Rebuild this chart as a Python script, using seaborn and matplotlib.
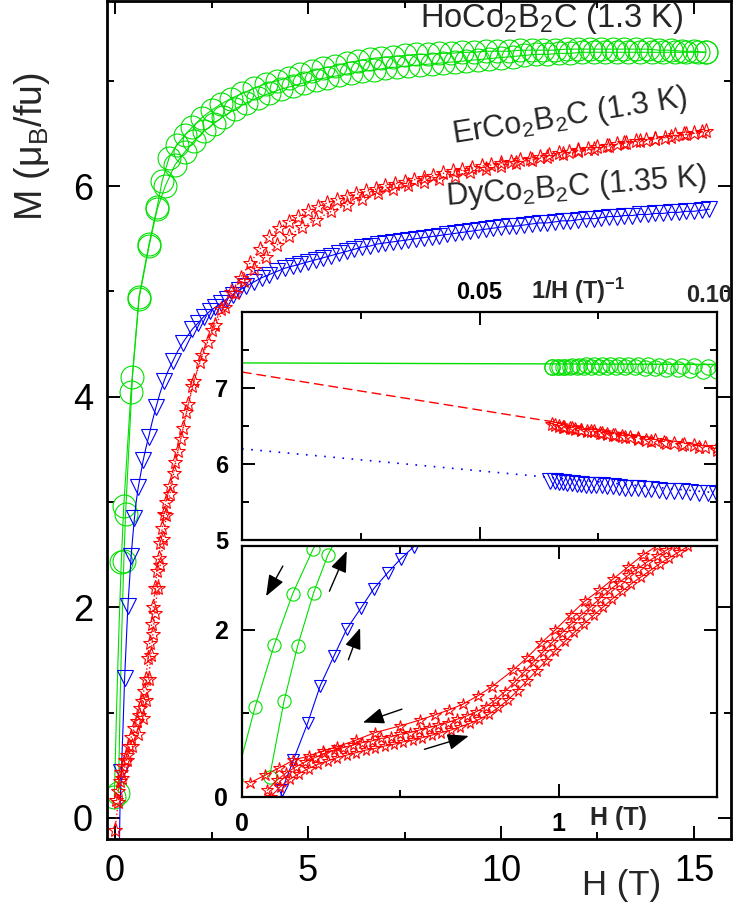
import numpy as np
import matplotlib
matplotlib.use("Agg")
import matplotlib.pyplot as plt
import seaborn as sns

# ---------------- data ----------------
# HoCo2B2C, decreasing-field branch (high -> low)
H_ho_dn = [15.3, 15.0, 14.7, 14.4, 14.1, 13.8, 13.5, 13.2, 12.9, 12.6,
           12.3, 12.0, 11.7, 11.4, 11.1, 10.8, 10.5, 10.2, 9.9, 9.6,
           9.3, 9.0, 8.7, 8.4, 8.1, 7.8, 7.5, 7.2, 6.9, 6.6,
           6.3, 6.0, 5.7, 5.4, 5.1, 4.8, 4.5, 4.2, 3.9, 3.6,
           3.3, 3.0, 2.75, 2.5, 2.25, 2.0, 1.8, 1.6, 1.4, 1.22,
           1.09, 0.88, 0.62, 0.41, 0.224, 0.16, 0.102, 0.041, -0.02]
M_ho_dn = [7.27, 7.28, 7.28, 7.29, 7.29, 7.30, 7.30, 7.30, 7.30, 7.30,
           7.30, 7.30, 7.30, 7.29, 7.29, 7.29, 7.29, 7.28, 7.28, 7.28,
           7.27, 7.27, 7.26, 7.26, 7.25, 7.25, 7.24, 7.23, 7.22, 7.21,
           7.19, 7.17, 7.14, 7.12, 7.09, 7.06, 7.03, 7.00, 6.97, 6.93,
           6.88, 6.83, 6.78, 6.72, 6.65, 6.56, 6.48, 6.39, 6.27, 6.05,
           5.80, 5.45, 4.95, 4.04, 2.96, 2.43, 1.82, 1.07, 0.20]
# HoCo2B2C, increasing-field branch
H_ho_up = [0.087, 0.133, 0.176, 0.226, 0.271, 0.45, 0.62, 0.88, 1.09, 1.3,
           1.55, 1.8, 2.05, 2.3, 2.55, 2.8, 3.1, 3.4, 3.7, 4.0,
           4.3, 4.6, 4.9, 5.2, 5.5, 5.8, 6.1, 6.4, 6.7, 7.0,
           7.3, 7.6, 7.9, 8.2, 8.5, 8.8, 9.1, 9.4, 9.7, 10.0,
           10.3, 10.6, 10.9, 11.2, 11.5, 11.8, 12.1, 12.4, 12.7, 13.0,
           13.3, 13.6, 13.9, 14.2, 14.5, 14.8, 15.1, 15.3]
M_ho_up = [0.24, 1.15, 1.81, 2.44, 2.89, 4.19, 4.93, 5.43, 5.78, 6.00,
           6.20, 6.32, 6.43, 6.52, 6.59, 6.66, 6.73, 6.79, 6.84, 6.88,
           6.92, 6.95, 6.98, 7.01, 7.03, 7.05, 7.07, 7.09, 7.10, 7.12,
           7.13, 7.14, 7.15, 7.16, 7.17, 7.18, 7.19, 7.20, 7.21, 7.22,
           7.23, 7.24, 7.25, 7.25, 7.26, 7.26, 7.27, 7.27, 7.27, 7.27,
           7.27, 7.27, 7.27, 7.27, 7.27, 7.27, 7.27, 7.27]

# DyCo2B2C
H_dy = [0.11, 0.126, 0.162, 0.207, 0.247, 0.291, 0.331, 0.376, 0.416, 0.46,
        0.502, 0.542, 0.6, 0.67, 0.73, 0.79, 0.87, 0.96, 1.06, 1.16,
        1.27, 1.38, 1.5, 1.62, 1.75, 1.88, 2.0, 2.15, 2.3, 2.45,
        2.6, 2.75, 2.9, 3.05, 3.2, 3.4, 3.6, 3.8, 4.0, 4.2,
        4.4, 4.6, 4.8, 5.0, 5.2, 5.4, 5.6, 5.8, 6.0, 6.2,
        6.4, 6.6, 6.8, 7.0, 7.2, 7.4, 7.6, 7.8, 8.0, 8.2,
        8.4, 8.6, 8.8, 9.0, 9.2, 9.4, 9.6, 9.8, 10.0, 10.2,
        10.4, 10.6, 10.8, 11.0, 11.2, 11.4, 11.6, 11.8, 12.0, 12.2,
        12.4, 12.6, 12.8, 13.0, 13.2, 13.4, 13.6, 13.8, 14.0, 14.2,
        14.4, 14.6, 14.8, 15.0, 15.2, 15.4]
M_dy = [-0.30, 0.08, 0.44, 0.88, 1.33, 1.69, 2.01, 2.26, 2.49, 2.68,
        2.85, 2.99, 3.14, 3.28, 3.40, 3.50, 3.62, 3.76, 3.90, 4.03,
        4.15, 4.25, 4.34, 4.43, 4.51, 4.58, 4.64, 4.70, 4.76, 4.81,
        4.85, 4.89, 4.93, 4.97, 5.01, 5.05, 5.09, 5.13, 5.16, 5.19,
        5.22, 5.24, 5.26, 5.28, 5.30, 5.32, 5.34, 5.36, 5.38, 5.40,
        5.42, 5.43, 5.45, 5.46, 5.47, 5.48, 5.49, 5.50, 5.51, 5.52,
        5.53, 5.54, 5.55, 5.56, 5.57, 5.58, 5.59, 5.60, 5.61, 5.62,
        5.62, 5.63, 5.64, 5.65, 5.65, 5.66, 5.67, 5.67, 5.68, 5.69,
        5.69, 5.70, 5.71, 5.71, 5.72, 5.72, 5.73, 5.73, 5.74, 5.74,
        5.75, 5.75, 5.76, 5.76, 5.77, 5.78]

# ErCo2B2C, decreasing-field sweep (high -> low)
H_er_dn = [15.3, 15.0, 14.75, 14.5, 14.25, 14.0, 13.75, 13.5, 13.25, 13.0,
           12.75, 12.5, 12.25, 12.0, 11.75, 11.5, 11.25, 11.0, 10.75, 10.5,
           10.25, 10.0, 9.75, 9.5, 9.25, 9.0, 8.75, 8.5, 8.25, 8.0,
           7.75, 7.5, 7.25, 7.0, 6.75, 6.5, 6.25, 6.0, 5.75, 5.5,
           5.25, 5.0, 4.75, 4.5, 4.25, 4.0, 3.75, 3.5, 3.25, 3.0,
           2.75, 2.5, 2.25, 2.0, 1.85, 1.7, 1.55, 1.42, 1.31, 1.265,
           1.219, 1.173, 1.128, 1.082, 1.038, 0.99, 0.945, 0.899, 0.857, 0.79,
           0.745, 0.698, 0.653, 0.608, 0.561, 0.50, 0.42, 0.36, 0.30, 0.255,
           0.21, 0.162, 0.118, 0.073, 0.025]
M_er_dn = [6.52, 6.50, 6.49, 6.48, 6.46, 6.45, 6.44, 6.43, 6.41, 6.40,
           6.38, 6.37, 6.35, 6.34, 6.32, 6.31, 6.29, 6.28, 6.26, 6.25,
           6.23, 6.22, 6.20, 6.19, 6.17, 6.15, 6.14, 6.12, 6.10, 6.08,
           6.06, 6.04, 6.02, 6.00, 5.97, 5.95, 5.92, 5.90, 5.87, 5.84,
           5.80, 5.76, 5.71, 5.66, 5.60, 5.52, 5.40, 5.27, 5.13, 4.99,
           4.83, 4.63, 4.40, 4.10, 3.85, 3.60, 3.38, 3.15, 3.00, 2.89,
           2.75, 2.61, 2.47, 2.34, 2.18, 2.00, 1.84, 1.66, 1.52, 1.32,
           1.21, 1.11, 1.04, 0.98, 0.92, 0.85, 0.77, 0.68, 0.60, 0.55,
           0.49, 0.44, 0.35, 0.26, 0.17]
# ErCo2B2C, increasing-field sweep (main panel)
H_er_up = [0.0, 0.08, 0.18, 0.30, 0.45, 0.60, 0.72, 0.80, 0.87, 0.93,
           0.98, 1.03, 1.10, 1.17, 1.25, 1.33, 1.42, 1.52, 1.63, 1.76,
           1.90, 2.05, 2.2, 2.4, 2.6, 2.85, 3.1, 3.35, 3.6, 3.9,
           4.2, 4.5, 4.85, 5.2, 5.6, 6.0, 6.4, 6.8, 7.2, 7.6,
           8.0, 8.4, 8.8, 9.2, 9.6, 10.0, 10.4, 10.8, 11.2, 11.6,
           12.0, 12.4, 12.8, 13.2, 13.6, 14.0, 14.4, 14.8, 15.2]
M_er_up = [-0.11, 0.15, 0.38, 0.55, 0.68, 0.80, 0.95, 1.12, 1.32, 1.55,
           1.75, 1.95, 2.18, 2.40, 2.65, 2.88, 3.08, 3.28, 3.48, 3.70,
           3.93, 4.15, 4.33, 4.52, 4.68, 4.85, 4.98, 5.10, 5.21, 5.33,
           5.44, 5.53, 5.61, 5.68, 5.76, 5.82, 5.88, 5.93, 5.97, 6.01,
           6.04, 6.07, 6.10, 6.13, 6.16, 6.19, 6.22, 6.25, 6.28, 6.30,
           6.33, 6.35, 6.38, 6.41, 6.43, 6.45, 6.47, 6.49, 6.51]
# ErCo2B2C, dense low-field increasing sweeps (lower inset)
H_er_a = [0.08, 0.11, 0.14, 0.17, 0.20, 0.23, 0.26, 0.29, 0.32, 0.35,
          0.38, 0.41, 0.44, 0.47, 0.50, 0.53, 0.56, 0.59, 0.62, 0.65,
          0.68, 0.71, 0.74, 0.77, 0.80, 0.83, 0.86, 0.89, 0.92, 0.95,
          0.98, 1.01, 1.04, 1.07, 1.10, 1.13, 1.16, 1.19, 1.22, 1.25,
          1.28, 1.31, 1.34, 1.37, 1.40]
M_er_a = [0.08, 0.20, 0.29, 0.36, 0.42, 0.47, 0.52, 0.56, 0.59, 0.62,
          0.65, 0.67, 0.70, 0.72, 0.75, 0.77, 0.80, 0.83, 0.86, 0.89,
          0.93, 0.97, 1.02, 1.08, 1.16, 1.26, 1.37, 1.49, 1.61, 1.73,
          1.85, 1.96, 2.07, 2.17, 2.27, 2.37, 2.47, 2.56, 2.65, 2.73,
          2.81, 2.88, 2.95, 3.01, 3.07]
H_er_b = [0.09, 0.12, 0.15, 0.18, 0.21, 0.24, 0.27, 0.30, 0.33, 0.36,
          0.39, 0.42, 0.45, 0.48, 0.51, 0.54, 0.57, 0.60, 0.63, 0.66,
          0.69, 0.72, 0.75, 0.78, 0.81, 0.84, 0.87, 0.90, 0.93, 0.96,
          0.99, 1.02, 1.05, 1.08, 1.11, 1.14, 1.17, 1.20, 1.23, 1.26,
          1.29, 1.32, 1.35, 1.38, 1.41, 1.44]
M_er_b = [0.00, 0.12, 0.21, 0.28, 0.34, 0.39, 0.43, 0.47, 0.50, 0.53,
          0.56, 0.58, 0.61, 0.63, 0.66, 0.68, 0.71, 0.74, 0.77, 0.80,
          0.84, 0.88, 0.93, 0.99, 1.07, 1.16, 1.27, 1.39, 1.51, 1.63,
          1.75, 1.86, 1.97, 2.07, 2.17, 2.27, 2.37, 2.46, 2.55, 2.63,
          2.71, 2.79, 2.86, 2.93, 3.00, 3.06]

# linear fits in M vs 1/H (upper inset)
fit_x = [0.0, 0.10]
fit_ho = [7.33, 7.31]
fit_er = [7.21, 6.21]
fit_dy = [6.20, 5.62]

labels = ["HoCo$_2$B$_2$C (1.3 K)", "ErCo$_2$B$_2$C (1.3 K)", "DyCo$_2$B$_2$C (1.35 K)"]

# ---------------- style ----------------
sns.set_style("ticks")
plt.rcParams["font.family"] = ["Liberation Sans", "DejaVu Sans"]
plt.rcParams["mathtext.fontset"] = "custom"
plt.rcParams["mathtext.rm"] = "Liberation Sans"
plt.rcParams["mathtext.it"] = "Liberation Sans:italic"
plt.rcParams["mathtext.bf"] = "Liberation Sans:bold"

GREEN, RED, BLUE = "#00e000", "#ff0000", "#0000ff"
W, HP = 736, 906
fig = plt.figure(figsize=(W / 100, HP / 100), dpi=100)


def box(l, t, r, b):
    return [l / W, 1 - b / HP, (r - l) / W, (b - t) / HP]


def curve(a, x, y, color, marker=None, ms=0, ls="-", lw=0.8, mew=0.8,
          dashes=None, markevery=None):
    kw = dict(x=np.asarray(x, float), y=np.asarray(y, float), ax=a, sort=False,
              estimator=None, color=color, linewidth=lw, linestyle=ls, legend=False)
    if marker:
        kw.update(marker=marker, markersize=ms, markerfacecolor="none",
                  markeredgecolor=color, markeredgewidth=mew)
        if markevery is not None:
            kw.update(markevery=markevery)
    sns.lineplot(**kw)
    if dashes is not None:
        a.lines[-1].set_dashes(dashes)


def style_axes(a, lw_spine, labelsize, pad):
    for s in a.spines.values():
        s.set_linewidth(lw_spine)
        s.set_color("black")
    a.tick_params(which="both", direction="in", top=True, right=True,
                  width=1.4, colors="black", labelsize=labelsize, pad=pad)
    a.tick_params(which="major", length=9.5)
    a.tick_params(which="minor", length=5)
    a.set_xlabel("")
    a.set_ylabel("")


def bold_ticklabels(a):
    for axis in (a.xaxis, a.yaxis):
        for tk in axis.get_major_ticks():
            tk.label1.set_fontweight("bold")
            tk.label2.set_fontweight("bold")


# ---------------- main panel ----------------
ax = fig.add_axes(box(107, 1, 731, 839))
# the main panel shows the coarser low-field points only
mark_ho_dn = [i for i, m in enumerate(M_ho_dn) if not (0.3 < m < 2.3)]
mark_ho_up = [i for i, m in enumerate(M_ho_up) if not (0.3 < m < 2.3)]
mark_dy = [i for i, h in enumerate(H_dy) if h >= 2.0 or i % 2 == 0]
curve(ax, H_ho_dn, M_ho_dn, GREEN, "o", 16.5, markevery=mark_ho_dn)
curve(ax, H_ho_up, M_ho_up, GREEN, "o", 16.5, markevery=mark_ho_up)
curve(ax, H_dy, M_dy, BLUE, "v", 11.5, markevery=mark_dy)
curve(ax, H_er_dn, M_er_dn, RED, "*", 11, ls=":", lw=1.0)
curve(ax, H_er_up, M_er_up, RED, "*", 11, ls=":", lw=1.0)
ax.set_xlim(-0.21, 15.96)
ax.set_ylim(-0.2, 7.757)
ax.set_xticks([0, 5, 10, 15])
ax.set_xticks([2.5, 7.5, 12.5], minor=True)
ax.set_yticks([0, 2, 4, 6])
ax.set_yticks([1, 3, 5, 7], minor=True)
style_axes(ax, 2.0, 26, 10)
ax.tick_params(axis="x", pad=11)

ax.text(7.90, 7.51, labels[0], fontsize=23.5, ha="left", va="baseline")
ax.text(8.76, 6.41, labels[1], fontsize=22, ha="left", va="baseline",
        rotation=9, rotation_mode="anchor")
ax.text(8.58, 5.82, labels[2], fontsize=22, ha="left", va="baseline",
        rotation=4.3, rotation_mode="anchor")

fig.text(32 / W, 1 - 147 / HP, "M (μ$_\\mathrm{B}$/fu)", rotation=90,
         ha="center", va="center", fontsize=27)
fig.text(622 / W, 1 - 885 / HP, "H (T)", ha="center", va="center", fontsize=25)

# ---------------- upper inset: M vs 1/H ----------------
axu = fig.add_axes(box(242, 312, 717, 540))
axu.set_facecolor("white")


def inv_sel(Hs, Ms, hmin=9.5):
    Hs = np.asarray(Hs, float)
    Ms = np.asarray(Ms, float)
    m = Hs >= hmin
    return 1.0 / Hs[m], Ms[m]


curve(axu, fit_x, fit_ho, GREEN, lw=1.0)
curve(axu, fit_x, fit_er, RED, lw=1.0, dashes=(7, 3.5))
curve(axu, fit_x, fit_dy, BLUE, lw=1.2, dashes=(1, 4.5))
for Hs, Ms in [(H_ho_dn, M_ho_dn), (H_ho_up, M_ho_up)]:
    xx, yy = inv_sel(Hs, Ms)
    curve(axu, xx, yy, GREEN, "o", 11, lw=0)
for Hs, Ms in [(H_er_dn, M_er_dn), (H_er_up, M_er_up)]:
    xx, yy = inv_sel(Hs, Ms)
    curve(axu, xx, yy, RED, "*", 10, lw=0)
xx, yy = inv_sel(H_dy, M_dy)
curve(axu, xx, yy, BLUE, "v", 11, lw=0)
axu.set_xlim(0, 0.10)
axu.set_ylim(5, 8)
axu.set_xticks([0.05, 0.10], ["0.05", ""])
axu.set_xticks([0.025, 0.075], minor=True)
axu.set_yticks([5, 6, 7], ["5", "6", "7"])
axu.set_yticks([5.5, 6.5, 7.5], minor=True)
style_axes(axu, 1.6, 17, 10)
axu.tick_params(axis="x", labeltop=True, labelbottom=False, pad=6)
bold_ticklabels(axu)
# last top tick label, nudged left so it stays inside the picture
fig.text(709 / W, 1 - 296 / HP, "0.10", ha="center", va="center",
         fontsize=17, fontweight="bold")
fig.text(578 / W, 1 - 291 / HP, "1/H (T)$^{\\mathbf{-1}}$", ha="center", va="center",
         fontsize=17, fontweight="bold")

# ---------------- lower inset: low-field loops ----------------
axl = fig.add_axes(box(242, 546, 717, 797))
axl.set_facecolor("white")
curve(axl, H_ho_dn, M_ho_dn, GREEN, "o", 9.5)
curve(axl, H_ho_up, M_ho_up, GREEN, "o", 9.5)
curve(axl, H_dy, M_dy, BLUE, "v", 8)
curve(axl, H_er_b, M_er_b, RED, "*", 8.5)
curve(axl, H_er_a, M_er_a, RED, "*", 8.5)
curve(axl, H_er_dn, M_er_dn, RED, "*", 9)
axl.set_xlim(0, 1.5)
axl.set_ylim(0, 3)
axl.set_xticks([0, 1], ["0", "1"])
axl.set_xticks([0.5], minor=True)
axl.set_yticks([0, 2], ["0", "2"])
axl.set_yticks([1], minor=True)
style_axes(axl, 1.6, 18, 10)
axl.tick_params(axis="x", pad=11)
bold_ticklabels(axl)
fig.text(618 / W, 1 - 818 / HP, "H (T)", ha="center", va="center",
         fontsize=18, fontweight="bold")

arrows = [((0.129, 2.76), (0.076, 2.40)),
          ((0.276, 2.46), (0.331, 2.94)),
          ((0.336, 1.64), (0.373, 2.02)),
          ((0.505, 1.05), (0.382, 0.89)),
          ((0.576, 0.57), (0.716, 0.73))]
for (x0, y0), (x1, y1) in arrows:
    axl.annotate("", xy=(x1, y1), xytext=(x0, y0),
                 arrowprops=dict(arrowstyle="-|>,head_length=0.65,head_width=0.25",
                                 color="black", lw=1.0, mutation_scale=20,
                                 shrinkA=0, shrinkB=0))

fig.savefig("out.png", dpi=100)
